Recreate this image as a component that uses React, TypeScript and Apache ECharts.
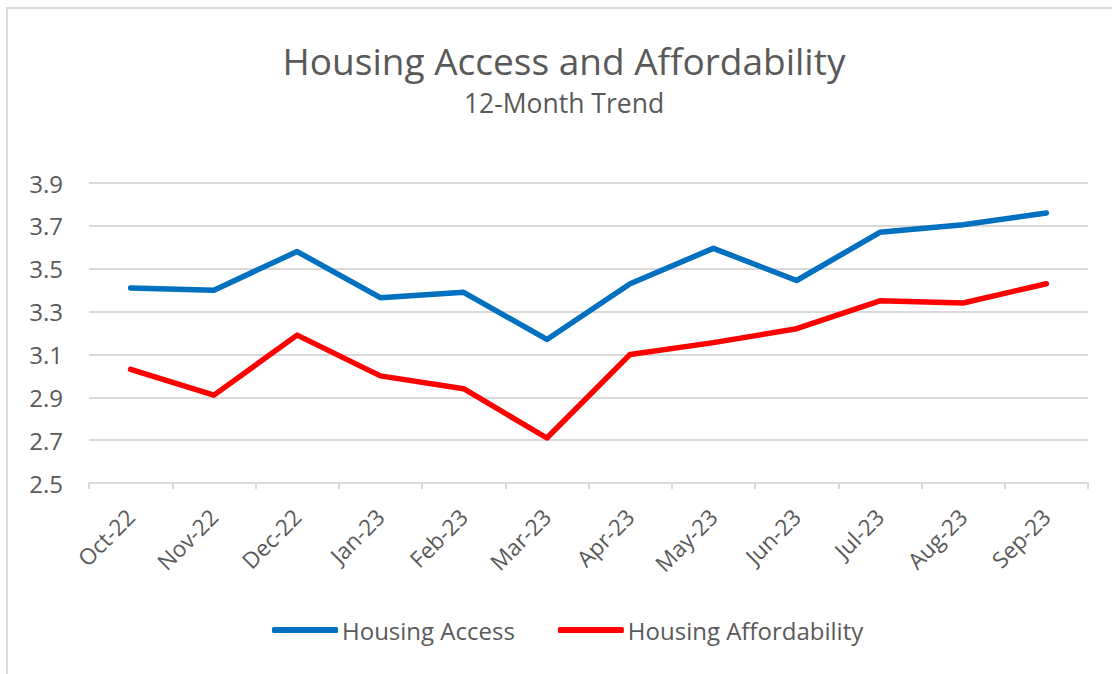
import React, { useEffect, useRef } from "react";
import * as echarts from "echarts";

const months = ["Oct-22", "Nov-22", "Dec-22", "Jan-23", "Feb-23", "Mar-23", "Apr-23", "May-23", "Jun-23", "Jul-23", "Aug-23", "Sep-23"];
const housingAccess = [3.41, 3.40, 3.58, 3.365, 3.39, 3.17, 3.43, 3.595, 3.445, 3.67, 3.705, 3.76];
const housingAffordability = [3.03, 2.91, 3.19, 3.0, 2.94, 2.71, 3.10, 3.155, 3.22, 3.35, 3.34, 3.43];
const yMin = 2.5;
const yMax = 3.9;
const yStep = 0.2;
const titleText = "Housing Access and Affordability";
const subtitleText = "12-Month Trend";

const FONT = "'Open Sans', 'Noto Sans', sans-serif";
const TEXT = "#595959";
const GRID = "#D9D9D9";

export default function App() {
  const ref = useRef<HTMLDivElement>(null);
  useEffect(() => {
    if (!ref.current) return;
    const chart = echarts.init(ref.current, null, { renderer: "svg" });
    chart.setOption({
      animation: false,
      backgroundColor: "#ffffff",
      textStyle: { fontFamily: FONT },
      graphic: [
        {
          type: "rect",
          shape: { x: 7, y: 8, width: 1200, height: 800 },
          style: { fill: "none", stroke: GRID, lineWidth: 2 },
          silent: true,
        },
        {
          type: "text",
          x: 564,
          y: 60,
          style: { text: titleText, fill: TEXT, font: `37px ${FONT}`, textAlign: "center", textVerticalAlign: "middle" },
        },
        {
          type: "text",
          x: 564,
          y: 103,
          style: { text: subtitleText, fill: TEXT, font: `26.5px ${FONT}`, textAlign: "center", textVerticalAlign: "middle" },
        },
      ],
      grid: { left: 89, right: 24, top: 183, bottom: 191, containLabel: false },
      legend: {
        left: 267,
        top: 613,
        icon: "roundRect",
        itemWidth: 66,
        itemHeight: 6,
        itemGap: 43,
        textStyle: { color: TEXT, fontSize: 24, fontFamily: FONT, padding: [0, 0, 0, -1] },
        data: ["Housing Access", "Housing Affordability"],
      },
      xAxis: {
        type: "category",
        data: months,
        boundaryGap: true,
        axisLine: { lineStyle: { color: GRID, width: 2 } },
        axisTick: { show: true, length: 6, lineStyle: { color: GRID, width: 2 } },
        axisLabel: { rotate: 45, color: TEXT, fontSize: 22.5, fontFamily: FONT, margin: 30 },
      },
      yAxis: {
        type: "value",
        min: yMin,
        max: yMax,
        interval: yStep,
        axisLine: { show: false },
        axisTick: { show: false },
        splitLine: { lineStyle: { color: GRID, width: 2 } },
        axisLabel: { color: TEXT, fontSize: 24, fontFamily: FONT, margin: 26, formatter: (v: number) => v.toFixed(1) },
      },
      series: [
        {
          name: "Housing Access",
          type: "line",
          data: housingAccess,
          symbol: "none",
          lineStyle: { color: "#0070C0", width: 5.5, cap: "round", join: "round" },
          itemStyle: { color: "#0070C0" },
        },
        {
          name: "Housing Affordability",
          type: "line",
          data: housingAffordability,
          symbol: "none",
          lineStyle: { color: "#FF0000", width: 5.5, cap: "round", join: "round" },
          itemStyle: { color: "#FF0000" },
        },
      ],
    });
    return () => chart.dispose();
  }, []);
  return <div ref={ref} style={{ position: "fixed", left: 0, top: 0, width: 1112, height: 674 }} />;
}
